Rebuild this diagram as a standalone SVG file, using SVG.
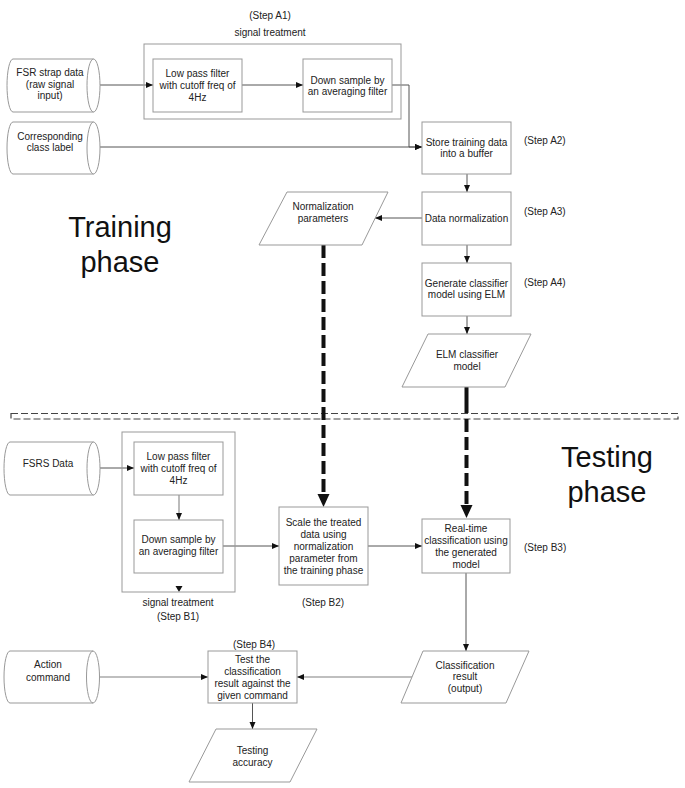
<svg xmlns="http://www.w3.org/2000/svg" width="685" height="788" viewBox="0 0 685 788">
<defs>
<style>
text{font-family:"Liberation Sans",Arial,sans-serif;font-size:10px;fill:#222;text-anchor:middle}
.big{font-size:29px;fill:#111}
.st{text-anchor:start}
.box{fill:#fff;stroke:#999;stroke-width:1}
.grp{fill:none;stroke:#999;stroke-width:1}
.conn{fill:none;stroke:#555;stroke-width:1}
.conn2{fill:none;stroke:#aaa;stroke-width:1.6}
.thick{fill:none;stroke:#111;stroke-width:4}
.dash{stroke-dasharray:13,5}
.band{fill:none;stroke:#444;stroke-width:1.2;stroke-dasharray:7,3}
</style>
<marker id="ar" markerUnits="userSpaceOnUse" markerWidth="8" markerHeight="7" viewBox="0 0 8 7" refX="7" refY="3.5" orient="auto"><path d="M0,0.5 L7,3.5 L0,6.5 z" fill="#111"/></marker>
<marker id="bar" markerUnits="userSpaceOnUse" markerWidth="14" markerHeight="14" viewBox="0 0 14 14" refX="0" refY="7" orient="auto"><path d="M0,1 L13,7 L0,13 z" fill="#111"/></marker>
</defs>

<!-- phase labels -->
<text class="big" x="120" y="237">Training</text>
<text class="big" x="120" y="272">phase</text>
<text class="big" x="607" y="467">Testing</text>
<text class="big" x="607" y="502">phase</text>

<!-- separator band -->
<rect class="band" x="11" y="413.5" width="667" height="5.5"/>

<g id="connectors">
<line class="conn" x1="100" y1="85" x2="153" y2="85" marker-end="url(#ar)"/>
<line class="conn" x1="242" y1="85" x2="303" y2="85" marker-end="url(#ar)"/>
<polyline class="conn" points="392,85 409,85 409,147 422,147" marker-end="url(#ar)"/>
<line class="conn" x1="100" y1="147" x2="422" y2="147" marker-end="url(#ar)"/>
<line class="conn" x1="467" y1="174" x2="467" y2="192" marker-end="url(#ar)"/>
<line class="conn" x1="422" y1="218" x2="375" y2="218" marker-end="url(#ar)"/>
<line class="conn" x1="467" y1="245" x2="467" y2="263" marker-end="url(#ar)"/>
<line class="conn" x1="467" y1="316" x2="467" y2="334" marker-end="url(#ar)"/>
<line class="thick dash" x1="323.5" y1="245" x2="323.5" y2="494" marker-end="url(#bar)"/>
<line class="thick" x1="466.5" y1="387" x2="466.5" y2="413"/>
<line class="thick dash" x1="466.5" y1="419" x2="466.5" y2="505" marker-end="url(#bar)"/>
<line class="conn" x1="100" y1="468" x2="134" y2="468" marker-end="url(#ar)"/>
<line class="conn2" x1="179" y1="495" x2="179" y2="520" marker-end="url(#ar)"/>
<path d="M175.5,586 L182.5,586 L179,592 z" fill="#111"/>
<line class="conn" x1="223" y1="546" x2="279" y2="546" marker-end="url(#ar)"/>
<line class="conn" x1="368" y1="546" x2="422" y2="546" marker-end="url(#ar)"/>
<line class="conn" x1="466" y1="573" x2="466" y2="651" marker-end="url(#ar)"/>
<line class="conn2" x1="413" y1="677" x2="297" y2="677" marker-end="url(#ar)"/>
<line class="conn2" x1="100" y1="677" x2="208" y2="677" marker-end="url(#ar)"/>
<line class="conn" x1="252.5" y1="703" x2="252.5" y2="729" marker-end="url(#ar)"/>
</g>

<!-- Training phase nodes -->
<g id="fsr-strap">
<path class="box" d="M13,59 H93.5 A6.5,26.5 0 0 1 93.5,112 H13 A6,26.5 0 0 1 13,59 Z"/>
<path class="grp" d="M93.5,59 A6.5,26.5 0 0 0 93.5,112"/>
<text x="50" y="76">FSR strap data</text>
<text x="50" y="87.5">(raw signal</text>
<text x="50" y="99">input)</text>
</g>
<g id="class-label">
<path class="box" d="M13,122 H93.5 A6.5,26 0 0 1 93.5,174 H13 A6,26 0 0 1 13,122 Z"/>
<path class="grp" d="M93.5,122 A6.5,26 0 0 0 93.5,174"/>
<text x="50" y="139.5">Corresponding</text>
<text x="50" y="151">class label</text>
</g>
<g id="step-a1">
<rect class="grp" x="144" y="44" width="257" height="75"/>
<text x="270" y="19">(Step A1)</text>
<text x="270" y="35.5">signal treatment</text>
</g>
<g id="lowpass-a">
<rect class="box" x="153" y="59" width="89" height="53"/>
<text x="197.5" y="77">Low pass filter</text>
<text x="197.5" y="89">with cutoff freq of</text>
<text x="197.5" y="101">4Hz</text>
</g>
<g id="downsample-a">
<rect class="box" x="303" y="59" width="89" height="53"/>
<text x="347.5" y="83.5">Down sample by</text>
<text x="347.5" y="95">an averaging filter</text>
</g>
<g id="store">
<rect class="box" x="422" y="122" width="89" height="52"/>
<text x="466.5" y="145.5">Store training data</text>
<text x="466.5" y="157">into a buffer</text>
<text class="st" x="524" y="143.5">(Step A2)</text>
</g>
<g id="normalize">
<rect class="box" x="422" y="192" width="89" height="53"/>
<text x="466.5" y="221.5">Data normalization</text>
<text class="st" x="524" y="214.5">(Step A3)</text>
</g>
<g id="generate">
<rect class="box" x="422" y="263" width="89" height="53"/>
<text x="466.5" y="286.5">Generate classifier</text>
<text x="466.5" y="298">model using ELM</text>
<text class="st" x="524" y="285.5">(Step A4)</text>
</g>
<g id="elm-model">
<polygon class="box" points="428,334 531,334 505,387 402,387"/>
<text x="467" y="358">ELM classifier</text>
<text x="467" y="369.5">model</text>
</g>
<g id="norm-params">
<polygon class="box" points="287,192 388,192 362,245 259,245"/>
<text x="323" y="209.5">Normalization</text>
<text x="323" y="221.5">parameters</text>
</g>

<!-- Testing phase nodes -->
<g id="fsrs-data">
<path class="box" d="M10,442 H93.5 A6.5,26.5 0 0 1 93.5,495 H10 A6,26.5 0 0 1 10,442 Z"/>
<path class="grp" d="M93.5,442 A6.5,26.5 0 0 0 93.5,495"/>
<text x="48" y="466.5">FSRS Data</text>
</g>
<g id="step-b1">
<rect class="grp" x="122" y="432" width="113" height="160"/>
<text x="178" y="605.5">signal treatment</text>
<text x="178" y="619.5">(Step B1)</text>
</g>
<g id="lowpass-b">
<rect class="box" x="134" y="442" width="89" height="53"/>
<text x="178.5" y="459.5">Low pass filter</text>
<text x="178.5" y="471.5">with cutoff freq of</text>
<text x="178.5" y="484">4Hz</text>
</g>
<g id="downsample-b">
<rect class="box" x="134" y="520" width="89" height="53"/>
<text x="178.5" y="542.5">Down sample by</text>
<text x="178.5" y="555">an averaging filter</text>
</g>
<g id="scale">
<rect class="box" x="279" y="507" width="89" height="78"/>
<text x="323.5" y="525.5">Scale the treated</text>
<text x="323.5" y="537.5">data using</text>
<text x="323.5" y="549.5">normalization</text>
<text x="323.5" y="561.5">parameter from</text>
<text x="323.5" y="573.5">the training phase</text>
<text x="323" y="605.5">(Step B2)</text>
</g>
<g id="realtime">
<rect class="box" x="422" y="519" width="88" height="54"/>
<text x="466" y="531.5">Real-time</text>
<text x="466" y="543.5">classification using</text>
<text x="466" y="555.5">the generated</text>
<text x="466" y="567.5">model</text>
<text class="st" x="524" y="550.5">(Step B3)</text>
</g>
<g id="class-result">
<polygon class="box" points="423,651 529,651 506,703 401,703"/>
<text x="465" y="668.5">Classification</text>
<text x="465" y="680">result</text>
<text x="465" y="691.5">(output)</text>
</g>
<g id="action-command">
<path class="box" d="M10,651 H93 A6.5,26 0 0 1 93,703 H10 A6,26 0 0 1 10,651 Z"/>
<path class="grp" d="M93,651 A6.5,26 0 0 0 93,703"/>
<text x="48" y="667.5">Action</text>
<text x="48" y="680.5">command</text>
</g>
<g id="test">
<rect class="box" x="208" y="651" width="89" height="52"/>
<text x="252.5" y="662.5">Test the</text>
<text x="252.5" y="674.5">classification</text>
<text x="252.5" y="686.5">result against the</text>
<text x="252.5" y="698.5">given command</text>
<text x="254" y="647.5">(Step B4)</text>
</g>
<g id="testing-accuracy">
<polygon class="box" points="216,729 317,729 290,782 189,782"/>
<text x="252.5" y="753.5">Testing</text>
<text x="252.5" y="765.5">accuracy</text>
</g>
</svg>
